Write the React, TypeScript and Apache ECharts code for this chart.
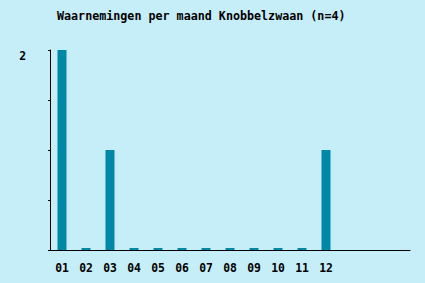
import React, { useEffect, useRef } from "react";
import * as echarts from "echarts";

const TITLE = "Waarnemingen per maand Knobbelzwaan (n=4)";
const months = ["01", "02", "03", "04", "05", "06", "07", "08", "09", "10", "11", "12"];
const extraSlots = ["", "", ""];
const counts = [2, 0, 1, 0, 0, 0, 0, 0, 0, 0, 0, 1];
const yTickLabels = ["2"];

export default function App() {
  const ref = useRef<HTMLDivElement>(null);
  useEffect(() => {
    if (!ref.current) return;
    const chart = echarts.init(ref.current, null, { renderer: "svg" });
    const font = "'DejaVu Sans Mono', monospace";
    const categories = [...months, ...extraSlots];
    chart.setOption({
      animation: false,
      backgroundColor: "#c6eef8",
      title: {
        text: TITLE,
        left: 52,
        top: 5,
        textStyle: { fontFamily: font, fontSize: 11.7, fontWeight: "bold", color: "#000" },
      },
      grid: { left: 50, right: 15, top: 50, bottom: 33, containLabel: false },
      xAxis: {
        type: "category",
        data: categories,
        boundaryGap: true,
        axisLine: { lineStyle: { color: "#000", width: 1 } },
        axisTick: {
          alignWithLabel: true,
          length: 3,
          lineStyle: { color: "#000" },
          interval: (i: number) => i < months.length,
        },
        axisLabel: {
          interval: 0,
          margin: 12,
          fontFamily: font,
          fontSize: 11.4,
          fontWeight: "bold",
          color: "#000",
        },
        splitLine: { show: false },
      },
      yAxis: {
        type: "value",
        min: 0,
        max: 2,
        interval: 0.5,
        axisLine: { show: true, lineStyle: { color: "#000", width: 1 } },
        axisTick: { show: true, length: 2, lineStyle: { color: "#000" } },
        axisLabel: {
          margin: 24,
          verticalAlign: "top",
          fontFamily: font,
          fontSize: 11.4,
          fontWeight: "bold",
          color: "#000",
          formatter: (v: number) => (yTickLabels.includes(String(v)) ? String(v) : ""),
        },
        splitLine: { show: false },
      },
      series: [
        {
          type: "bar",
          data: counts,
          barWidth: 9,
          barMinHeight: 2,
          itemStyle: { color: "#0088a8" },
        },
      ],
    });
    return () => chart.dispose();
  }, []);
  return <div ref={ref} style={{ width: 425, height: 283, position: "absolute", left: 0, top: 0 }} />;
}
